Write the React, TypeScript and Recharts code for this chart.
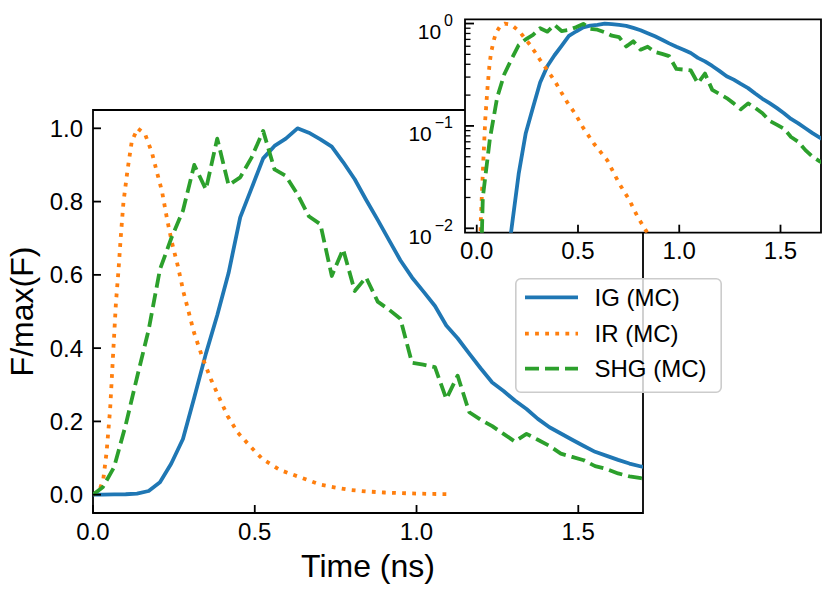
import React from 'react';
import { LineChart, Line, XAxis, YAxis, ReferenceArea, CartesianGrid, Legend } from 'recharts';

const FONT = '"Liberation Sans", Arial, Helvetica, sans-serif';

// ---------- data ----------
// common time grid (ns) for IG and SHG
const gridT = [
  0, 0.03, 0.065, 0.101, 0.136, 0.172, 0.207, 0.242, 0.278, 0.313,
  0.349, 0.384, 0.419, 0.455, 0.49, 0.526, 0.561, 0.596, 0.632, 0.667,
  0.703, 0.738, 0.773, 0.809, 0.844, 0.88, 0.915, 0.95, 0.986, 1.021,
  1.057, 1.092, 1.127, 1.163, 1.198, 1.234, 1.269, 1.304, 1.34, 1.375,
  1.411, 1.446, 1.481, 1.517, 1.552, 1.588, 1.623, 1.658, 1.694, 1.729,
];
const igValues = [
  0, 0.0003, 0.0006, 0.0012, 0.003, 0.01, 0.034, 0.085, 0.152, 0.265,
  0.385, 0.49, 0.605, 0.757, 0.836, 0.918, 0.952, 0.972, 1.0, 0.988,
  0.97, 0.95, 0.908, 0.861, 0.805, 0.75, 0.695, 0.64, 0.593, 0.555,
  0.515, 0.462, 0.427, 0.385, 0.345, 0.306, 0.283, 0.257, 0.234, 0.207,
  0.184, 0.167, 0.15, 0.133, 0.117, 0.106, 0.095, 0.085, 0.077, 0.07,
];
const shgValues = [
  0, 0.02, 0.075, 0.19, 0.32, 0.45, 0.615, 0.7, 0.775, 0.9,
  0.833, 0.972, 0.845, 0.866, 0.92, 0.993, 0.888, 0.87, 0.82, 0.76,
  0.738, 0.597, 0.67, 0.556, 0.593, 0.527, 0.505, 0.48, 0.36, 0.355,
  0.348, 0.261, 0.325, 0.225, 0.205, 0.187, 0.166, 0.145, 0.166, 0.15,
  0.133, 0.112, 0.103, 0.094, 0.078, 0.07, 0.058, 0.05, 0.045, 0.041,
];
// IR has its own (finer) time samples
const irT = [
  0, 0.02, 0.032, 0.042, 0.053, 0.063, 0.071, 0.079, 0.086, 0.094,
  0.107, 0.12, 0.138, 0.161, 0.182, 0.198, 0.213, 0.229, 0.244, 0.262,
  0.28, 0.291, 0.312, 0.338, 0.364, 0.39, 0.416, 0.447, 0.488, 0.524,
  0.579, 0.645, 0.703, 0.753, 0.794, 0.844, 0.9, 0.95, 1.0, 1.05,
  1.11,
];
const irValues = [
  0, 0.012, 0.043, 0.116, 0.234, 0.397, 0.525, 0.615, 0.706, 0.797,
  0.888, 0.965, 1.0, 0.984, 0.934, 0.879, 0.829, 0.752, 0.688, 0.625,
  0.552, 0.515, 0.443, 0.375, 0.316, 0.265, 0.215, 0.17, 0.13, 0.097,
  0.067, 0.046, 0.0275, 0.019, 0.013, 0.0089, 0.006, 0.0043, 0.003, 0.002,
  0.0014,
];

const seriesNames = ['IG (MC)', 'IR (MC)', 'SHG (MC)'];
const seriesColors = ['#1f77b4', '#ff7f0e', '#2ca02c'];
const seriesDash = [undefined, '3.8 6.3', '14 6'];

const mainXTicks = [0, 0.5, 1.0, 1.5];
const mainYTicks = [0, 0.2, 0.4, 0.6, 0.8, 1.0];
const insetXTicks = [0, 0.5, 1.0, 1.5];
const insetYTicks = [
  0.01, 0.02, 0.03, 0.04, 0.05, 0.06, 0.07, 0.08, 0.09,
  0.1, 0.2, 0.3, 0.4, 0.5, 0.6, 0.7, 0.8, 0.9, 1,
];

const MAIN_XDOMAIN = [0, 1.7];
const MAIN_YDOMAIN = [-0.05, 1.05];
const INSET_XDOMAIN = [-0.058, 1.7];
const INSET_YDOMAIN = [0.00906, 1.1];

const toRows = (ts: number[], vs: number[]) => ts.map((t, i) => ({ t, v: vs[i] }));
const toLogRows = (ts: number[], vs: number[]) =>
  ts.map((t, i) => ({ t, v: vs[i] > 0 ? vs[i] : 1e-4 }));

const mainData = [toRows(gridT, igValues), toRows(irT, irValues), toRows(gridT, shgValues)];
const insetData = [toLogRows(gridT, igValues), toLogRows(irT, irValues), toLogRows(gridT, shgValues)];

// ---------- layout ----------
const W = 830;
const H = 594;
const PLOT = { left: 93, top: 110, right: 643, bottom: 513 };
const INSET_BOX = { left: 400, top: 0, width: 430, height: 270 };
const INSET_PLOT = { left: 65, top: 19.3, right: 421, bottom: 232.7 };
const LW = 3.8;

// ---------- ticks ----------
const MainXTick = (props: any) => {
  const { x, y, payload } = props;
  return (
    <g>
      <line x1={x} y1={y} x2={x} y2={y - 8} stroke="#000" strokeWidth={1.8} />
      <text x={x} y={y + 27} textAnchor="middle" fontSize={24} fontFamily={FONT} fill="#000">
        {Number(payload.value).toFixed(1)}
      </text>
    </g>
  );
};
const MainYTick = (props: any) => {
  const { x, y, payload } = props;
  return (
    <g>
      <line x1={x} y1={y} x2={x + 8} y2={y} stroke="#000" strokeWidth={1.8} />
      <text x={x - 10} y={y + 8.5} textAnchor="end" fontSize={24} fontFamily={FONT} fill="#000">
        {Number(payload.value).toFixed(1)}
      </text>
    </g>
  );
};
const InsetXTick = (props: any) => {
  const { x, y, payload } = props;
  return (
    <g>
      <line x1={x} y1={y} x2={x} y2={y - 8} stroke="#000" strokeWidth={1.8} />
      <text x={x} y={y + 26.6} textAnchor="middle" fontSize={24} fontFamily={FONT} fill="#000">
        {Number(payload.value).toFixed(1)}
      </text>
    </g>
  );
};
const InsetYTick = (props: any) => {
  const { x, y, payload } = props;
  const v = Number(payload.value);
  const lg = Math.log10(v);
  const e = Math.round(lg);
  const major = Math.abs(lg - e) < 1e-6;
  const expText = e < 0 ? '\u2212' + String(-e) : String(e);
  return (
    <g>
      <line x1={x} y1={y} x2={x + (major ? 9 : 5.5)} y2={y} stroke="#000" strokeWidth={major ? 1.8 : 1.3} />
      {major && (
        <text x={x - 12} y={y + 15.5} textAnchor="end" fontSize={21} fontFamily={FONT} fill="#000">
          10
          <tspan fontSize={16} dx={3} dy={-13}>
            {expText}
          </tspan>
        </text>
      )}
    </g>
  );
};

// ---------- legend ----------
const LegendBox = () => {
  const w = 207;
  const h = 115;
  const rows = [19.4, 55.7, 90.7];
  return (
    <svg width={w} height={h} style={{ display: 'block' }}>
      <rect x={0.8} y={0.8} width={w - 1.6} height={h - 1.6} rx={5} ry={5}
        fill="#fff" fillOpacity={0.8} stroke="#cccccc" strokeWidth={1.6} />
      {seriesNames.map((name, i) => (
        <g key={name}>
          <line x1={10} y1={rows[i]} x2={63} y2={rows[i]} stroke={seriesColors[i]}
            strokeWidth={LW} strokeDasharray={seriesDash[i]} />
          <text x={79.5} y={rows[i] + 8.6} fontSize={24} fontFamily={FONT} fill="#000">
            {name}
          </text>
        </g>
      ))}
    </svg>
  );
};

export default function App() {
  return (
    <div style={{ position: 'absolute', left: 0, top: 0, width: W, height: H, background: '#fff', fontFamily: FONT }}>
      <div style={{ position: 'absolute', left: 0, top: 0 }}>
        <LineChart
          width={W}
          height={H}
          margin={{ top: PLOT.top, left: PLOT.left - 60, right: W - PLOT.right, bottom: H - PLOT.bottom - 30 }}
        >
          <XAxis
            dataKey="t"
            type="number"
            domain={MAIN_XDOMAIN}
            ticks={mainXTicks}
            allowDataOverflow
            height={30}
            axisLine={false}
            tickLine={false}
            tickSize={0}
            tickMargin={0}
            tick={<MainXTick />}
            label={() => (
              <text x={(PLOT.left + PLOT.right) / 2} y={577} textAnchor="middle" fontSize={32} fontFamily={FONT} fill="#000">
                Time (ns)
              </text>
            )}
          />
          <YAxis
            type="number"
            domain={MAIN_YDOMAIN}
            ticks={mainYTicks}
            allowDataOverflow
            width={60}
            axisLine={false}
            tickLine={false}
            tickSize={0}
            tickMargin={0}
            tick={<MainYTick />}
            label={() => (
              <text
                x={33}
                y={(PLOT.top + PLOT.bottom) / 2}
                textAnchor="middle"
                fontSize={32}
                fontFamily={FONT}
                fill="#000"
                transform={`rotate(-90, 33, ${(PLOT.top + PLOT.bottom) / 2})`}
              >
                F/max(F)
              </text>
            )}
          />
          {seriesNames.map((name, i) => (
            <Line
              key={name}
              data={mainData[i]}
              dataKey="v"
              name={name}
              type="linear"
              stroke={seriesColors[i]}
              strokeWidth={LW}
              strokeDasharray={seriesDash[i]}
              strokeLinejoin="round"
              dot={false}
              activeDot={false}
              isAnimationActive={false}
            />
          ))}
          <ReferenceArea
            x1={MAIN_XDOMAIN[0]}
            x2={MAIN_XDOMAIN[1]}
            y1={MAIN_YDOMAIN[0]}
            y2={MAIN_YDOMAIN[1]}
            fill="none"
            stroke="#000"
            strokeWidth={1.8}
            ifOverflow="visible"
          />
          <Legend
            layout="vertical"
            align="center"
            verticalAlign="middle"
            wrapperStyle={{ position: 'absolute', left: 515, top: 278.3, width: 207, height: 115 }}
            content={() => <LegendBox />}
          />
        </LineChart>
      </div>
      <div style={{ position: 'absolute', left: INSET_BOX.left, top: INSET_BOX.top }}>
        <LineChart
          width={INSET_BOX.width}
          height={INSET_BOX.height}
          margin={{
            top: INSET_PLOT.top,
            left: INSET_PLOT.left - 60,
            right: INSET_BOX.width - INSET_PLOT.right,
            bottom: INSET_BOX.height - INSET_PLOT.bottom - 30,
          }}
        >
          <CartesianGrid horizontal={false} vertical={false} fill="#fff" fillOpacity={1} stroke="none" />
          <XAxis
            dataKey="t"
            type="number"
            domain={INSET_XDOMAIN}
            ticks={insetXTicks}
            allowDataOverflow
            height={30}
            axisLine={false}
            tickLine={false}
            tickSize={0}
            tickMargin={0}
            tick={<InsetXTick />}
          />
          <YAxis
            type="number"
            scale="log"
            domain={INSET_YDOMAIN}
            ticks={insetYTicks}
            allowDataOverflow
            width={60}
            axisLine={false}
            tickLine={false}
            tickSize={0}
            tickMargin={0}
            tick={<InsetYTick />}
            interval={0}
          />
          {seriesNames.map((name, i) => (
            <Line
              key={name}
              data={insetData[i]}
              dataKey="v"
              name={name}
              type="linear"
              stroke={seriesColors[i]}
              strokeWidth={LW}
              strokeDasharray={seriesDash[i]}
              strokeLinejoin="round"
              dot={false}
              activeDot={false}
              isAnimationActive={false}
            />
          ))}
          <ReferenceArea
            x1={INSET_XDOMAIN[0]}
            x2={INSET_XDOMAIN[1]}
            y1={INSET_YDOMAIN[0]}
            y2={INSET_YDOMAIN[1]}
            fill="none"
            stroke="#000"
            strokeWidth={1.8}
            ifOverflow="visible"
          />
        </LineChart>
      </div>
    </div>
  );
}
